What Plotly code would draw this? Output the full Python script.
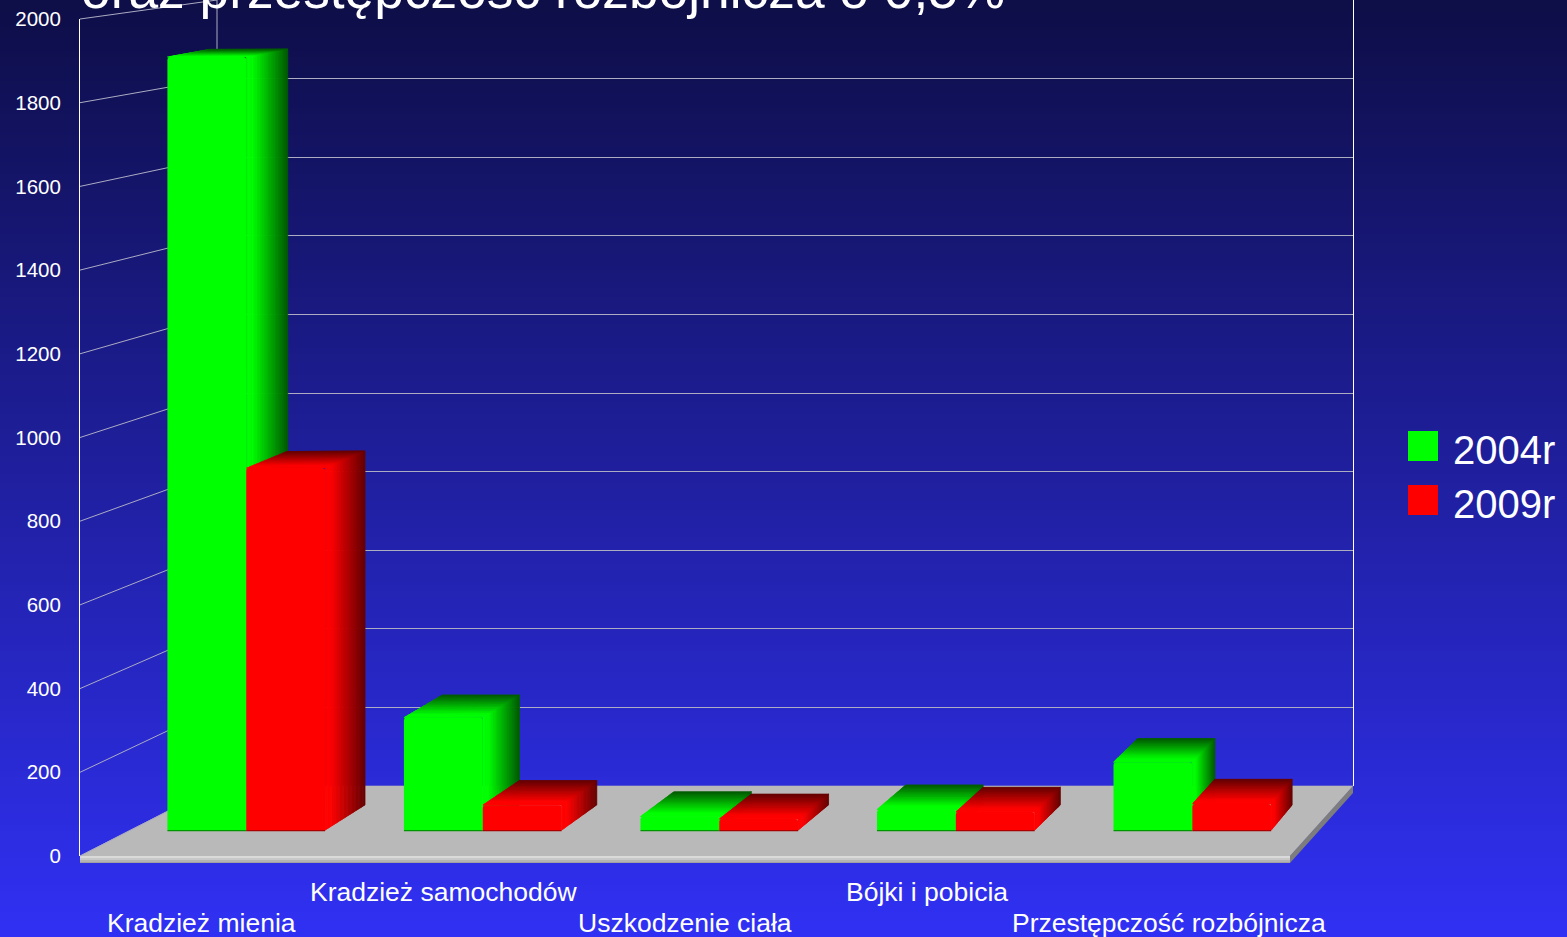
import plotly.graph_objects as go

W, H = 1567, 937
CATEGORIES = ["Kradzież mienia", "Kradzież samochodów", "Uszkodzenie ciała", "Bójki i pobicia", "Przestępczość rozbójnicza"]
VALUES_2004 = [1890, 275, 33, 50, 166]
VALUES_2009 = [885, 61, 27, 44, 64]
SERIES_NAMES = ["2004r", "2009r"]
TICKS = [0, 200, 400, 600, 800, 1000, 1200, 1400, 1600, 1800, 2000]
TITLE = "oraz przestępczość rozbójnicza o 0,5%"
LABEL_Y = [923, 892, 923, 892, 923]
D1, D2Y, D2X = 0.37, 0.73, 0.69
BAR_SHIFT = -2.7


def y0(d): return 856 - 70 * d
def sc(d): return 0.4185 - 0.0255 * d
def xl(d): return 80 + 137 * d
def wd(d): return 1210 - 74 * d
def px(u, d): return xl(d) + u * wd(d)
def py(v, d): return y0(d) - v * sc(d)
def dom_x(a, b): return [a / W, b / W]
def dom_y(top, bottom): return [1 - bottom / H, 1 - top / H]


def grad_stops():
    stops = []
    for y in range(0, H, 3):
        f = y / H
        c = (int(14 + 35 * f), int(14 + 35 * f), int(72 + 173 * f))
        stops.append(dict(type="rect", xref="paper", yref="paper", x0=0, x1=1,
                          y0=0, y1=1 - y / H, layer="below",
                          fillcolor=f"rgb{c}", line_width=0))
    return stops


fig = go.Figure()
fig.add_trace(go.Scatter(x=[0], y=[0], mode="markers", marker=dict(opacity=0), showlegend=False, hoverinfo="skip"))


def poly_trace(xs, ys, color, lw=0.6):
    return go.Scatter(x=xs, y=ys, xaxis="x2", yaxis="y2", mode="lines", fill="toself",
                      fillcolor=color, line=dict(color=color, width=lw), showlegend=False, hoverinfo="skip")


def closed(pts):
    return [p[0] for p in pts] + [pts[0][0]], [p[1] for p in pts] + [pts[0][1]]


T = 7
GRID = "rgb(172,172,195)"
fl = [(px(0, 0), y0(0)), (px(1, 0), y0(0)), (px(1, 1), y0(1)), (px(0, 1), y0(1))]
fig.add_trace(poly_trace(*closed(fl), "rgb(185,185,185)"))
EDGE = [(0, 2, "rgb(218,218,218)"), (2, 4, "rgb(200,200,200)"), (4, 6, "rgb(180,180,180)"), (6, 7, "rgb(160,160,160)")]
for a, b, c in EDGE:
    fig.add_trace(poly_trace(*closed([(px(0, 0), y0(0) + a), (px(1, 0), y0(0) + a),
                                      (px(1, 0), y0(0) + b), (px(0, 0), y0(0) + b)]), c, 0))
fig.add_trace(poly_trace(*closed([(px(1, 0), y0(0)), (px(1, 1), y0(1)), (px(1, 1), y0(1) + T), (px(1, 0), y0(0) + T)]),
                         "rgb(125,125,125)", 0))

wx, wy = [], []
for t in TICKS:
    wx += [px(0, 0), px(0, 1), None]
    wy += [py(t, 0), py(t, 1), None]
fig.add_trace(go.Scatter(x=wx, y=wy, xaxis="x2", yaxis="y2", mode="lines",
                         line=dict(color=GRID, width=1), showlegend=False, hoverinfo="skip"))
fig.add_trace(go.Scatter(x=[px(0, 1), px(0, 1)], y=[py(2000, 1), y0(1)], xaxis="x2", yaxis="y2", mode="lines",
                         line=dict(color=GRID, width=1), showlegend=False, hoverinfo="skip"))

N = 30
n_cat = len(CATEGORIES)
for s, (vals, bright, dark, edge) in enumerate([(VALUES_2004, (0, 255, 0), (0, 95, 0), "rgb(0,150,0)"),
                                                (VALUES_2009, (255, 0, 0), (105, 0, 0), "rgb(170,0,0)")]):
    for k in range(N):
        t0, t1 = k / N, (k + 1) / N
        f = 0 if t1 < 0.18 else (t1 - 0.18) / 0.82
        col = tuple(int(bright[j] + (dark[j] - bright[j]) * f) for j in range(3))
        xs, ys = [], []
        for i, v in enumerate(vals):
            ul = (i + 0.5) / n_cat + (s - 1) / (3 * n_cat)
            ur = ul + 1 / (3 * n_cat)
            dya, dyb = D1 + (D2Y - D1) * t0, D1 + (D2Y - D1) * t1
            dxa, dxb = D1 + (D2X - D1) * t0, D1 + (D2X - D1) * t1
            side = [(px(ur, dxa) + BAR_SHIFT, py(0, dya)), (px(ur, dxb) + BAR_SHIFT, py(0, dyb)),
                    (px(ur, dxb) + BAR_SHIFT, py(v, dyb)), (px(ur, dxa) + BAR_SHIFT, py(v, dya))]
            top = [(px(ul, dxa) + BAR_SHIFT, py(v, dya)), (px(ur, dxa) + BAR_SHIFT, py(v, dya)),
                   (px(ur, dxb) + BAR_SHIFT, py(v, dyb)), (px(ul, dxb) + BAR_SHIFT, py(v, dyb))]
            for poly in (side, top):
                a, b = closed(poly)
                xs += a + [None]
                ys += b + [None]
        fig.add_trace(poly_trace(xs, ys, f"rgb{col}", 0.8))
    # thin dark foot under each front face
    xs, ys = [], []
    for i in range(n_cat):
        ul = (i + 0.5) / n_cat + (s - 1) / (3 * n_cat)
        ur = ul + 1 / (3 * n_cat)
        xs += [px(ul, D1) + BAR_SHIFT, px(ur, D1) + BAR_SHIFT, None]
        ys += [y0(D1) + 0.5, y0(D1) + 0.5, None]
    fig.add_trace(go.Scatter(x=xs, y=ys, xaxis="x2", yaxis="y2", mode="lines", line=dict(color=edge, width=1.2),
                             showlegend=False, hoverinfo="skip"))

for i, (name, col) in enumerate(zip(SERIES_NAMES, ["#00ff00", "#ff0000"])):
    fig.add_trace(go.Scatter(x=[1423], y=[446 + 54 * i], xaxis="x2", yaxis="y2", mode="markers",
                             marker=dict(symbol="square", size=30, color=col), showlegend=False, hoverinfo="skip"))

fig.add_trace(go.Bar(x=CATEGORIES, y=VALUES_2004, name=SERIES_NAMES[0], marker=dict(color="#00ff00", line_width=0, cornerradius=3),
                     xaxis="x3", yaxis="y3", showlegend=False))
fig.add_trace(go.Bar(x=CATEGORIES, y=VALUES_2009, name=SERIES_NAMES[1], marker=dict(color="#ff0000", line_width=0, cornerradius=3),
                     xaxis="x3", yaxis="y3", showlegend=False))
fig.add_trace(go.Scatter(x=[CATEGORIES[0]], y=[0], xaxis="x4", yaxis="y4", mode="markers",
                         marker=dict(opacity=0), showlegend=False, hoverinfo="skip"))

hidden = dict(showgrid=False, zeroline=False, showticklabels=False, ticks="", showline=False)
annos = [dict(text=TITLE, xref="x2", yref="y2", x=79, y=21, xanchor="left", yanchor="bottom",
              showarrow=False, font=dict(family="Liberation Sans", size=53.3, color="white"))]
for c, ly in zip(CATEGORIES, LABEL_Y):
    annos.append(dict(text=c, xref="x4", yref="y2", x=c, y=ly, xanchor="center", yanchor="middle", showarrow=False,
                      font=dict(family="Liberation Sans", size=26.5, color="white")))
for i, name in enumerate(SERIES_NAMES):
    annos.append(dict(text=name, xref="x2", yref="y2", x=1451, y=450 + 54 * i, xanchor="left", yanchor="middle",
                      showarrow=False, font=dict(family="Liberation Sans", size=40, color="white")))

fig.update_layout(
    width=W, height=H, margin=dict(l=0, r=0, t=0, b=0, autoexpand=False), autosize=False,
    paper_bgcolor="rgb(14,14,72)", plot_bgcolor="rgba(0,0,0,0)",
    barmode="group", bargap=1 / 3, bargroupgap=0, showlegend=False,
    shapes=grad_stops(), annotations=annos,
    xaxis=dict(domain=dom_x(px(0, 1), px(1, 1)), range=[0, 1], anchor="y", **hidden),
    yaxis=dict(domain=dom_y(py(2000, 1), y0(1)), range=[0, 2000], tickvals=TICKS, showgrid=True, anchor="x",
               gridcolor=GRID, gridwidth=1, zeroline=False, showticklabels=False, ticks="",
               side="right", showline=True, linecolor="white", linewidth=1),
    xaxis2=dict(domain=[0, 1], range=[0, W], anchor="y2", **hidden),
    yaxis2=dict(domain=[0, 1], range=[H, 0], anchor="x2", **hidden),
    xaxis3=dict(domain=dom_x(px(0, D1) + BAR_SHIFT, px(1, D1) + BAR_SHIFT), type="category", categoryarray=CATEGORIES, range=[-0.5, 4.5], anchor="y3", **hidden),
    yaxis3=dict(domain=dom_y(py(2000, D1), y0(D1)), range=[0, 2000], anchor="x3", **hidden),
    xaxis4=dict(domain=dom_x(px(0, 0), px(1, 0)), type="category", categoryarray=CATEGORIES, range=[-0.5, 4.5], anchor="y4", **hidden),
    yaxis4=dict(domain=dom_y(py(2000, 0), y0(0)), range=[0, 2000], tickvals=TICKS, showgrid=False, zeroline=False, anchor="x4",
                ticks="outside", ticklen=14, tickcolor="rgba(0,0,0,0)", showline=True, linecolor="white", linewidth=1,
                tickfont=dict(family="Liberation Sans", size=20.5, color="white")),
)
fig.write_html("out.html", config=dict(displayModeBar=False),
               post_script="document.body.style.margin='0';document.body.style.overflow='hidden';")
